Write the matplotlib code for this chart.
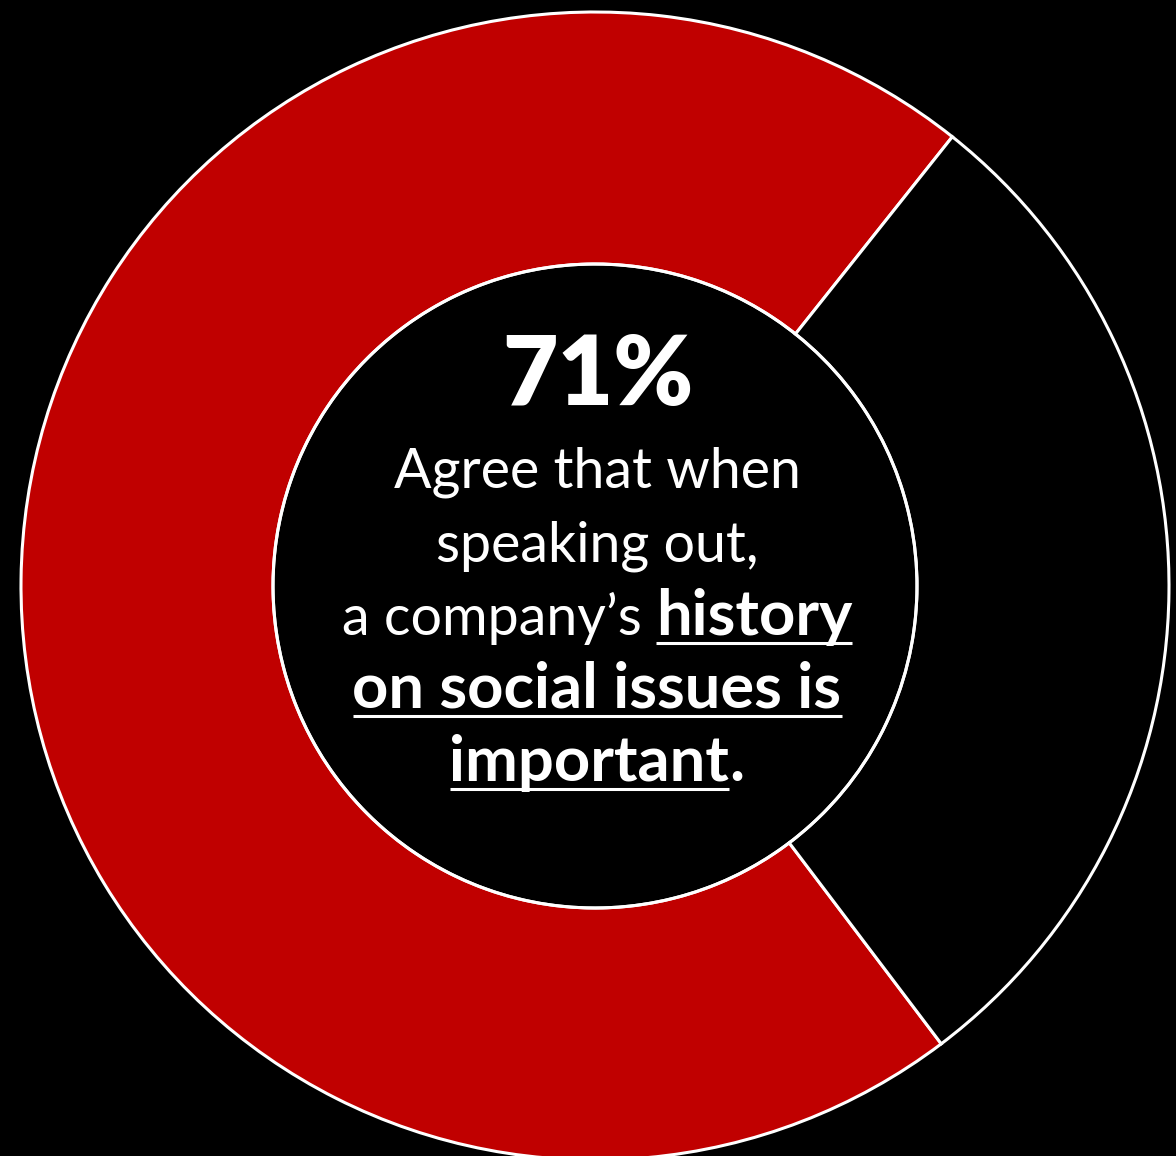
import matplotlib
matplotlib.use("Agg")
import matplotlib.pyplot as plt

# donut values
shares = [71, 29]
segment_names = ["Agree", "Other"]
segment_colors = ["#c00000", "#000000"]

headline = "71%"
# (text, bold, underline) runs for each line of the centre text
body_lines = [
    [("Agree that when", False, False)],
    [("speaking out,", False, False)],
    [("a company\u2019s ", False, False), ("history", True, True)],
    [("on social issues is", True, True)],
    [("important", True, True), (".", True, False)],
]

W, H = 1176, 1156
fig = plt.figure(figsize=(W / 100, H / 100), dpi=100, facecolor="black")
ax = fig.add_axes([0, 0, 1, 1])
ax.set_facecolor("black")

cx, cy = 595, H - 586
r_out, r_in = 574, 322

ax.pie(shares, colors=segment_colors, startangle=51.5, counterclock=True,
       center=(cx, cy), radius=r_out,
       wedgeprops=dict(width=r_out - r_in, edgecolor="white", linewidth=2.2))
ax.add_patch(plt.Circle((cx, cy), r_in, fill=False, ec="white", lw=2.2))

ax.set_xlim(0, W)
ax.set_ylim(0, H)
ax.axis("off")

font = "Lato"
renderer = fig.canvas.get_renderer()

ax.text(598, H - 405, headline, fontsize=69, fontweight="heavy", family=font,
        color="white", ha="center", va="baseline")

body_size = 40
bold_size = 45.5


def run_width(s, bold):
    kw = dict(fontsize=bold_size if bold else body_size, family=font,
              fontweight="bold" if bold else "normal")
    t = ax.text(0, 0, "x" + s + "x", **kw)
    w = t.get_window_extent(renderer).width
    t.remove()
    t = ax.text(0, 0, "xx", **kw)
    w -= t.get_window_extent(renderer).width
    t.remove()
    return w


baseline = 488
step = 73.3
for line in body_lines:
    widths = [run_width(s, b) for s, b, u in line]
    x = 597 - sum(widths) / 2
    y = H - baseline
    for (s, b, u), w in zip(line, widths):
        ax.text(x, y, s, fontsize=bold_size if b else body_size, family=font,
                color="white", fontweight="bold" if b else "normal",
                ha="left", va="baseline")
        if u:
            ax.plot([x, x + w], [y - 8, y - 8], color="white", lw=2.2,
                    solid_capstyle="butt")
        x += w
    baseline += step

fig.savefig("out.png", dpi=100, facecolor="black")
